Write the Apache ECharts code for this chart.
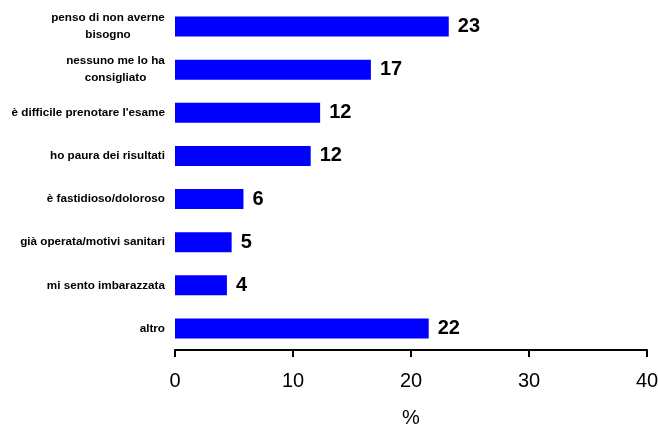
<!DOCTYPE html>
<html>
<head>
<meta charset="utf-8">
<script src="https://cdn.jsdelivr.net/npm/echarts@6/dist/echarts.min.js"></script>
<style>
html,body{margin:0;padding:0;background:#fff;}
#chart{width:658px;height:428px;}
</style>
</head>
<body>
<div id="chart"></div>
<script>
// Data
var categories = [
  "penso di non averne\nbisogno",
  "nessuno me lo ha\nconsigliato",
  "è difficile prenotare l'esame",
  "ho paura dei risultati",
  "è fastidioso/doloroso",
  "già operata/motivi sanitari",
  "mi sento imbarazzata",
  "altro"
];
var barValues = [23.2, 16.6, 12.3, 11.5, 5.8, 4.8, 4.4, 21.5];
var valueLabels = ["23", "17", "12", "12", "6", "5", "4", "22"];
var xTicks = [0, 10, 20, 30, 40];
var xName = "%";

var FONT = "'Liberation Sans', Arial, sans-serif";
var CAT_SIZE = 11.7;
var catFont = "bold " + CAT_SIZE + "px 'Liberation Sans', Arial, sans-serif";

// build rich styles so multi-line labels are centred within their block
var cvs = document.createElement('canvas');
var ctx = cvs.getContext('2d');
ctx.font = catFont;
var rich = {};
var fmtMap = {};
categories.forEach(function (c, i) {
  var lines = c.split('\n');
  if (lines.length > 1) {
    var w = 0;
    lines.forEach(function (l) { w = Math.max(w, ctx.measureText(l).width); });
    var key = 'c' + i;
    rich[key] = {width: Math.ceil(w), align: 'center', fontSize: CAT_SIZE, fontWeight: 'bold', fontFamily: FONT, color: '#000', lineHeight: 17};
    fmtMap[c] = lines.map(function (l) { return '{' + key + '|' + l + '}'; }).join('\n');
  }
});

var chart = echarts.init(document.getElementById('chart'), null, {renderer: 'canvas'});
chart.setOption({
  animation: false,
  backgroundColor: '#fff',
  grid: {left: 175, right: 11, top: 5, bottom: 78, containLabel: false, outerBoundsMode: 'none'},
  xAxis: {
    type: 'value',
    min: xTicks[0],
    max: xTicks[xTicks.length - 1],
    interval: 10,
    name: xName,
    nameLocation: 'middle',
    nameGap: 58,
    nameTextStyle: {fontFamily: FONT, fontSize: 20, color: '#000'},
    axisLine: {show: true, lineStyle: {color: '#000', width: 2}},
    axisTick: {show: true, length: 7, lineStyle: {color: '#000', width: 2}},
    axisLabel: {fontFamily: FONT, fontSize: 20, color: '#000', margin: 21},
    splitLine: {show: false}
  },
  yAxis: {
    type: 'category',
    inverse: true,
    data: categories,
    axisLine: {show: false},
    axisTick: {show: false},
    axisLabel: {
      margin: 10,
      fontFamily: FONT,
      fontSize: CAT_SIZE,
      fontWeight: 'bold',
      color: '#000',
      lineHeight: 17,
      align: 'right',
      formatter: function (v) { return fmtMap[v] || v; },
      rich: rich
    }
  },
  series: [{
    type: 'bar',
    data: barValues,
    barWidth: 20,
    itemStyle: {color: '#0000FF'},
    label: {
      show: true,
      position: 'right',
      distance: 9,
      fontFamily: FONT,
      fontSize: 20,
      fontWeight: 'bold',
      color: '#000',
      formatter: function (p) { return valueLabels[p.dataIndex]; }
    }
  }]
});
</script>
</body>
</html>
